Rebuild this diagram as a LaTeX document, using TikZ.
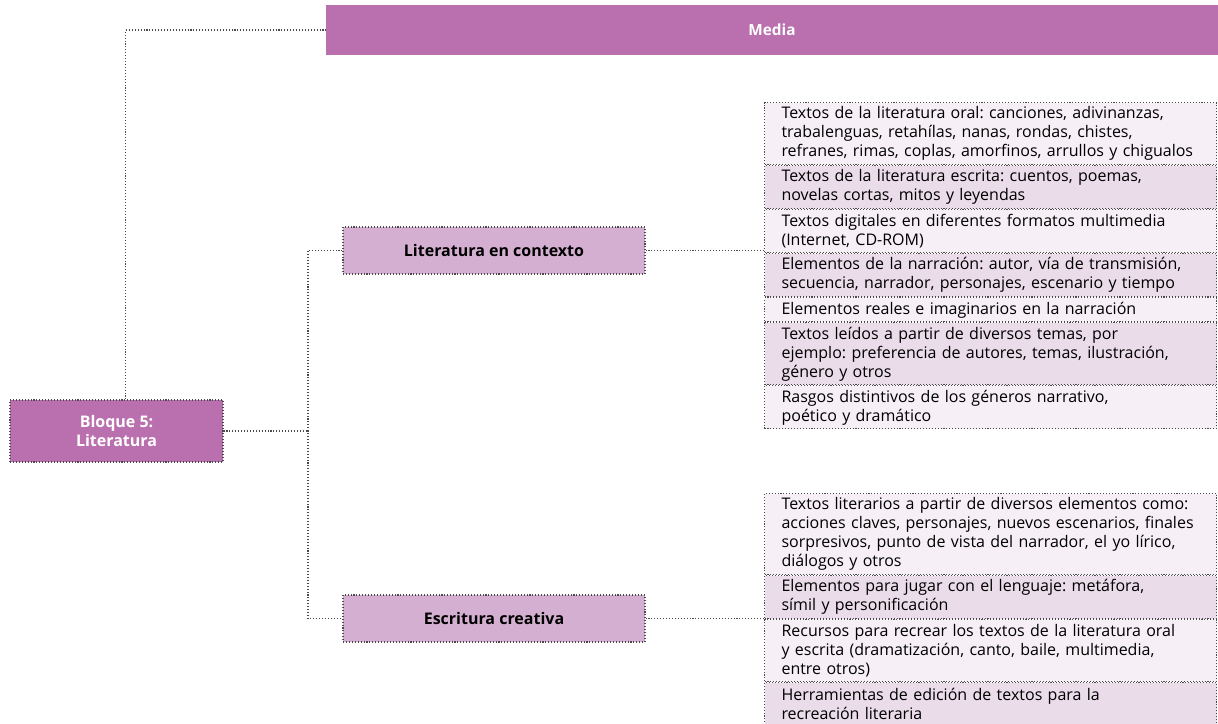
\documentclass[tikz,border=0pt]{standalone}
\usepackage{fontspec}
\setmainfont{Open Sans}
\usepackage{tikz}
\usetikzlibrary{positioning}
\frenchspacing

\definecolor{morado}{HTML}{BA70AE}
\definecolor{lila}{HTML}{D5AFD1}
\definecolor{claro}{HTML}{F6F0F6}
\definecolor{oscuro}{HTML}{EBDCEA}
\definecolor{punteado}{HTML}{4A4A4A}

\begin{document}
\begin{tikzpicture}[x=0.75pt, y=-0.75pt,
  borde/.style={draw=punteado, line width=0.8pt, dash pattern=on 0.8pt off 1.4pt},
  enlace/.style={borde},
  cabecera/.style={fill=morado, text=white, font=\fontsize{11.5}{14}\selectfont\bfseries, minimum width=669pt, minimum height=37.5pt},
  raiz/.style={borde, fill=morado, text=white, font=\fontsize{12}{14}\selectfont\bfseries, minimum width=159.75pt, minimum height=46.5pt, align=center},
  tema/.style={borde, fill=lila, font=\fontsize{12}{14}\selectfont\bfseries, minimum width=226.5pt, minimum height=35.25pt},
  item/.style 2 args={borde, fill=#1, minimum height=#2, text width=313.5pt, inner xsep=12.75pt, inner ysep=0pt, align=left, font=\fontsize{12}{14.25}\selectfont, anchor=north west}]
\useasboundingbox (0,0) rectangle (1218,724);

\node[cabecera] (media) at (772,30) {Media};
\node[raiz] (bloque) at (116.5,431) {Bloque 5:\\Literatura};
\node[tema] (lit) at (494,250.5) {Literatura en contexto};
\node[tema] (esc) at (494,618.5) {Escritura creativa};

% contenidos de literatura en contexto
\node[item={claro}{46.5pt}] (l1) at (764,102) {Textos de la literatura oral: canciones, adivinanzas,\\trabalenguas, retahílas, nanas, rondas, chistes,\\refranes, rimas, coplas, amorfinos, arrullos y chigualos};
\node[item={oscuro}{32.25pt}, below=0pt of l1] (l2) {Textos de la literatura escrita: cuentos, poemas,\\novelas cortas, mitos y leyendas};
\node[item={claro}{32.25pt}, below=0pt of l2] (l3) {Textos digitales en diferentes formatos multimedia\\(Internet, CD-ROM)};
\node[item={oscuro}{32.25pt}, below=0pt of l3] (l4) {Elementos de la narración: autor, vía de transmisión,\\secuencia, narrador, personajes, escenario y tiempo};
\node[item={claro}{18pt}, below=0pt of l4] (l5) {Elementos reales e imaginarios en la narración};
\node[item={oscuro}{46.5pt}, below=0pt of l5] (l6) {Textos leídos a partir de diversos temas, por\\ejemplo: preferencia de autores, temas, ilustración,\\género y otros};
\node[item={claro}{32.25pt}, below=0pt of l6] (l7) {Rasgos distintivos de los géneros narrativo,\\poético y dramático};

% contenidos de escritura creativa
\node[item={claro}{60.75pt}] (e1) at (764,493) {Textos literarios a partir de diversos elementos como:\\acciones claves, personajes, nuevos escenarios, finales\\sorpresivos, punto de vista del narrador, el yo lírico,\\diálogos y otros};
\node[item={oscuro}{32.25pt}, below=0pt of e1] (e2) {Elementos para jugar con el lenguaje: metáfora,\\símil y personificación};
\node[item={claro}{46.5pt}, below=0pt of e2] (e3) {Recursos para recrear los textos de la literatura oral\\y escrita (dramatización, canto, baile, multimedia,\\entre otros)};
\node[item={oscuro}{32.25pt}, below=0pt of e3] (e4) {Herramientas de edición de textos para la\\recreación literaria};

\coordinate (tronco) at (308,431);
\draw[enlace] ([xshift=7pt]bloque.north) |- (media.west);
\draw[enlace] (bloque.east) -- (tronco);
\draw[enlace] (lit.west) -| (tronco) |- (esc.west);
\draw[enlace] (lit.east) -- (lit.east -| l1.west);
\draw[enlace] (esc.east) -- (esc.east -| e1.west);
\end{tikzpicture}
\end{document}
